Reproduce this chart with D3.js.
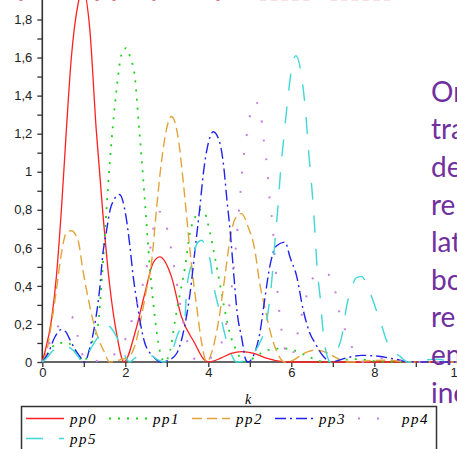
<!DOCTYPE html>
<html>
<head>
<meta charset="utf-8">
<script src="https://cdn.jsdelivr.net/npm/d3@7"></script>
<style>
  body { margin: 0; background: #fff; }
  svg { display: block; }
</style>
</head>
<body>
<div id="chart"></div>
<script>
// tick values
const kTicks = [0, 1, 2, 3, 4, 5, 6, 7, 8, 9, 10];
const yTicks = [0, 0.1, 0.2, 0.3, 0.4, 0.5, 0.6, 0.7, 0.8, 0.9, 1, 1.1, 1.2, 1.3, 1.4, 1.5, 1.6, 1.7, 1.8];
const seriesNames = ['pp0', 'pp1', 'pp2', 'pp3', 'pp4', 'pp5'];

// [k, value]
const pp0 = [[0,0],[0.06,0.05],[0.22,0.22],[0.34,0.45],[0.46,0.8],[0.58,1.22],[0.70,1.60],[0.86,1.88],[0.98,1.96],[1.14,1.76],[1.30,1.22],[1.46,0.78],[1.62,0.41],[1.79,0.15],[1.97,0],[2.23,0.15],[2.47,0.36],[2.67,0.52],[2.83,0.553],[3.11,0.45],[3.35,0.24],[3.67,0.10],[3.91,0.01],[4.0,0],[4.3,0.02],[4.55,0.045],[4.8,0.055],[5.1,0.045],[5.4,0.02],[5.75,0.003],[6.0,0],[10,0]];
const pp1 = [[0,0],[0.15,0.05],[0.3,0.09],[0.46,0.10],[0.62,0.10],[0.78,0.06],[0.92,0.02],[1.0,0],[1.1,0.04],[1.22,0.116],[1.34,0.19],[1.44,0.45],[1.54,0.78],[1.62,1.03],[1.70,1.24],[1.81,1.47],[1.90,1.61],[2.02,1.65],[2.12,1.60],[2.23,1.50],[2.31,1.29],[2.39,1.08],[2.47,0.85],[2.59,0.50],[2.71,0.24],[2.83,0.06],[2.95,0],[3.08,0.06],[3.2,0.22],[3.32,0.36],[3.44,0.50],[3.56,0.68],[3.68,0.76],[3.80,0.80],[3.92,0.78],[4.04,0.68],[4.16,0.55],[4.28,0.41],[4.40,0.27],[4.52,0.15],[4.68,0.06],[4.85,0],[5.0,0.01],[5.3,0.05],[5.6,0.07],[5.9,0.07],[6.2,0.05],[6.5,0.02],[6.8,0],[7.2,0.01],[7.6,0.015],[8.0,0.005],[8.4,0],[10,0]];
const pp2 = [[0,0],[0.1,0.05],[0.22,0.2],[0.34,0.38],[0.46,0.57],[0.58,0.68],[0.70,0.69],[0.86,0.64],[0.98,0.48],[1.10,0.34],[1.22,0.22],[1.34,0.13],[1.50,0.05],[1.62,0],[1.85,0.01],[2.1,0.03],[2.25,0.1],[2.39,0.24],[2.51,0.38],[2.63,0.52],[2.75,0.8],[2.87,1.05],[2.99,1.22],[3.11,1.29],[3.16,1.28],[3.28,1.17],[3.40,0.94],[3.48,0.76],[3.60,0.50],[3.72,0.29],[3.84,0.10],[3.96,0],[4.12,0.08],[4.28,0.26],[4.40,0.45],[4.52,0.64],[4.64,0.75],[4.80,0.78],[4.96,0.71],[5.12,0.59],[5.24,0.41],[5.36,0.29],[5.48,0.17],[5.64,0.06],[5.84,0],[6.05,0.01],[6.3,0.045],[6.6,0.063],[6.9,0.045],[7.1,0.02],[7.35,0],[7.8,0.005],[8.3,0.01],[8.8,0],[10,0]];
const pp3 = [[0,0],[0.14,0.045],[0.30,0.13],[0.46,0.17],[0.56,0.16],[0.66,0.12],[0.78,0.07],[0.9,0.03],[1.02,0],[1.14,0.07],[1.26,0.19],[1.38,0.38],[1.46,0.57],[1.54,0.68],[1.66,0.82],[1.86,0.88],[2.02,0.76],[2.11,0.61],[2.19,0.45],[2.27,0.33],[2.35,0.22],[2.47,0.10],[2.67,0.03],[2.85,0],[3.05,0.01],[3.24,0.046],[3.44,0.20],[3.56,0.36],[3.68,0.59],[3.80,0.82],[3.88,0.99],[4.00,1.15],[4.12,1.21],[4.28,1.15],[4.37,1.03],[4.45,0.85],[4.53,0.68],[4.61,0.47],[4.69,0.27],[4.81,0.12],[4.89,0.02],[4.95,0],[5.12,0.05],[5.24,0.15],[5.36,0.33],[5.48,0.50],[5.64,0.61],[5.85,0.63],[5.97,0.55],[6.13,0.45],[6.29,0.27],[6.45,0.15],[6.57,0.10],[6.77,0.03],[6.97,0],[7.3,0.02],[7.7,0.035],[8.1,0.03],[8.5,0.015],[8.9,0],[10,0]];
const pp4 = [[0,0],[0.26,0.14],[0.42,0.20],[0.70,0.24],[0.86,0.13],[1.0,0.02],[1.1,0],[1.4,0.01],[1.79,0.05],[2.0,0.12],[2.2,0.25],[2.47,0.45],[2.59,0.58],[2.71,0.74],[2.83,0.79],[2.96,0.74],[3.1,0.6],[3.2,0.47],[3.35,0.27],[3.5,0.10],[3.65,0.02],[3.8,0],[4.1,0.03],[4.32,0.10],[4.52,0.32],[4.68,0.64],[4.76,0.85],[4.84,1.06],[4.91,1.17],[4.99,1.28],[5.13,1.37],[5.29,1.26],[5.34,1.16],[5.41,1.04],[5.49,0.83],[5.54,0.74],[5.62,0.5],[5.69,0.31],[5.8,0.12],[5.95,0.02],[6.05,0.05],[6.2,0.2],[6.37,0.35],[6.49,0.43],[6.7,0.47],[6.89,0.46],[7.05,0.38],[7.17,0.25],[7.33,0.15],[7.53,0.05],[7.75,0],[8.2,0.02],[8.6,0.01],[9,0],[10,0]];
const pp5 = [[0,0],[0.1,0.02],[0.26,0.06],[0.45,0.08],[0.6,0.08],[0.75,0.06],[0.86,0.03],[0.98,0],[1.14,0.06],[1.31,0.12],[1.42,0.15],[1.58,0.19],[1.72,0.16],[1.86,0.10],[2.0,0.03],[2.1,0],[2.23,0.02],[2.4,0.04],[2.6,0.035],[2.8,0.01],[2.92,0],[3.1,0.04],[3.27,0.15],[3.43,0.22],[3.48,0.38],[3.60,0.52],[3.75,0.63],[3.85,0.64],[3.92,0.61],[4.04,0.54],[4.14,0.39],[4.28,0.26],[4.37,0.17],[4.52,0.06],[4.68,0],[4.95,0.01],[5.1,0.05],[5.24,0.10],[5.41,0.22],[5.53,0.43],[5.6,0.62],[5.68,0.82],[5.74,1.0],[5.82,1.18],[5.91,1.37],[6.0,1.53],[6.11,1.61],[6.25,1.5],[6.35,1.3],[6.42,1.1],[6.5,0.9],[6.56,0.72],[6.62,0.5],[6.7,0.33],[6.77,0.15],[6.84,0.05],[6.95,0],[7.09,0.05],[7.25,0.17],[7.33,0.29],[7.45,0.38],[7.55,0.44],[7.68,0.45],[7.82,0.41],[7.94,0.34],[8.10,0.24],[8.18,0.19],[8.3,0.11],[8.42,0.06],[8.62,0.03],[8.8,0],[9.2,0.01],[9.5,0.015],[9.8,0.005],[10,0]];

const seriesData = [pp0, pp1, pp2, pp3, pp4, pp5];

// slide text around the plot (only partly inside the picture)
const sideWords = ['Orbital', 'transitions', 'describe', 'relative', 'lattice', 'bound', 'relation', 'energies', 'increase'];
const topBits = ['(', ')', ')', ',', '(', ')'];
const topBitX = [17, 97, 114, 128, 150, 218];
const topDashes = '_ _ _ _ _     _ _ _ _ _ _';

const width = 457;
const height = 449;

const colors = ['#ff2020', '#1fcf1f', '#e2a43a', '#2222ee', '#c57fe0', '#3fd7d7'];
const dashes = ['none', '2,7', '10,5', '11,4,2,4', '2,17', '17,16'];
const widths = [1.3, 1.8, 1.4, 1.4, 2, 1.4];

const svg = d3.select('#chart')
    .append('svg')
    .attr('width', width)
    .attr('height', height)
    .style('background', '#FFFFFF');

const x = d3.scaleLinear().domain([0, 10]).range([42.3, 457.3]);
const y = d3.scaleLinear().domain([0, 1.8]).range([362, 19.5]);

// x axis
const gx = svg.append('g')
    .attr('transform', `translate(0, ${y(0)})`)
    .call(
        d3.axisBottom(x)
            .tickValues(kTicks)
            .tickSize(5)
            .tickPadding(1)
            .tickFormat(d => d % 2 === 0 ? d : '')
    );

// y axis
const gy = svg.append('g')
    .attr('transform', `translate(${x(0)}, 0)`)
    .call(
        d3.axisLeft(y)
            .tickValues(yTicks)
            .tickSize(5)
            .tickPadding(5)
            .tickFormat(d => Math.round(d * 10) % 2 === 0 ? String(+d.toFixed(1)).replace('.', ',') : '')
    );

[gx, gy].forEach(g => {
    g.select('.domain').remove();
    g.selectAll('line').attr('stroke', '#333').attr('stroke-width', 1.3);
    g.selectAll('text')
        .attr('fill', '#222')
        .style('font-family', '"Liberation Sans", Arial, sans-serif')
        .style('font-size', '13px');
});

svg.append('line')
    .attr('x1', x(0)).attr('x2', width)
    .attr('y1', y(0)).attr('y2', y(0))
    .attr('stroke', '#333').attr('stroke-width', 1.6);
svg.append('line')
    .attr('x1', x(0)).attr('x2', x(0))
    .attr('y1', y(0)).attr('y2', 0)
    .attr('stroke', '#333').attr('stroke-width', 1.6);

svg.append('text')
    .attr('x', 248)
    .attr('y', 404)
    .attr('text-anchor', 'middle')
    .style('font-family', '"Liberation Serif", serif')
    .style('font-style', 'italic')
    .style('font-size', '14px')
    .text('k');

// curves
const line = d3.line()
    .x(d => x(d[0]))
    .y(d => y(d[1]))
    .curve(d3.curveMonotoneX);

svg.selectAll('.curve')
    .data(seriesData).enter()
    .append('path')
    .attr('class', 'curve')
    .attr('fill', 'none')
    .attr('stroke', (d, i) => colors[i])
    .attr('stroke-width', (d, i) => widths[i])
    .attr('stroke-dasharray', (d, i) => dashes[i])
    .attr('d', line);

// legend
const legend = svg.append('g');
legend.append('rect')
    .attr('x', 21.5).attr('y', 406.5)
    .attr('width', 415).attr('height', 80)
    .attr('fill', '#fff')
    .attr('stroke', '#333').attr('stroke-width', 1.5);

const entry = legend.selectAll('.entry')
    .data(seriesNames).enter()
    .append('g')
    .attr('class', 'entry')
    .attr('transform', (d, i) => `translate(${26 + 83 * (i % 5)}, ${418.5 + 20 * Math.floor(i / 5)})`);

entry.append('line')
    .attr('x1', 0).attr('x2', 38)
    .attr('stroke', (d, i) => colors[i])
    .attr('stroke-width', (d, i) => widths[i])
    .attr('stroke-dasharray', (d, i) => dashes[i]);

entry.append('text')
    .attr('x', 44)
    .attr('dy', '0.35em')
    .style('font-family', '"Liberation Serif", serif')
    .style('font-style', 'italic')
    .style('font-size', '15px')
    .style('letter-spacing', '1.5px')
    .text(d => d);

// slide text bits, cut by the top edge
const slideTop = svg.append('text')
    .attr('y', -3)
    .attr('fill', '#c00000')
    .style('font-family', '"Open Sans", sans-serif')
    .style('font-weight', 'bold')
    .style('font-style', 'italic')
    .style('font-size', '24px');
slideTop.selectAll('tspan')
    .data(topBits).enter()
    .append('tspan')
    .attr('x', (d, i) => topBitX[i])
    .text(d => d);

svg.append('text')
    .attr('x', 260)
    .attr('y', -2)
    .attr('fill', '#c00000')
    .attr('xml:space', 'preserve')
    .style('white-space', 'pre')
    .style('font-family', '"Open Sans", sans-serif')
    .style('font-weight', 'bold')
    .style('font-size', '16px')
    .text(topDashes);

svg.selectAll('.side')
    .data(sideWords).enter()
    .append('text')
    .attr('class', 'side')
    .attr('x', 431)
    .attr('y', (d, i) => 101.7 + 37.6 * i)
    .attr('fill', '#7030a0')
    .style('font-family', 'Lato, sans-serif')
    .style('font-size', '28px')
    .text(d => d);
</script>
</body>
</html>
